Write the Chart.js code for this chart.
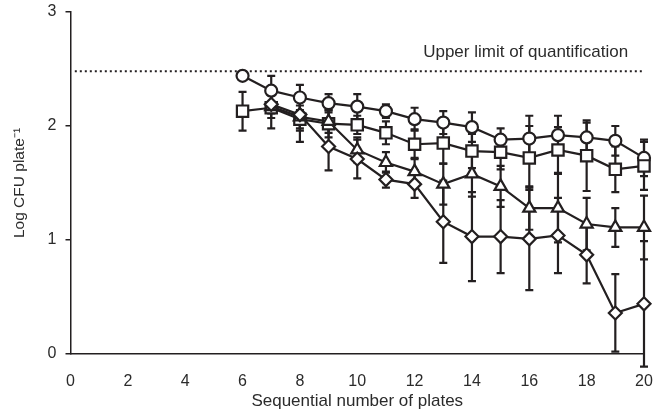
<!DOCTYPE html>
<html>
<head>
<meta charset="utf-8">
<script src="https://cdn.jsdelivr.net/npm/chart.js@4.4.1/dist/chart.umd.min.js"></script>
<style>
    html, body { margin: 0; padding: 0; background: #fff; }
    #wrap { width: 654px; height: 418px; }
</style>
</head>
<body>
<div id="wrap"><canvas id="cfuChart"></canvas></div>
<script>
    // Plate number (x) for every reading
    const plates = [6, 7, 8, 9, 10, 11, 12, 13, 14, 15, 16, 17, 18, 19, 20];

    // Log CFU per plate, one array per marker series
    const circleVals = [2.44, 2.31, 2.25, 2.20, 2.17, 2.13, 2.06, 2.03, 1.99, 1.88, 1.89, 1.92, 1.90, 1.87, 1.72];
    const circleErr = [0, 0.13, 0.11, 0.08, 0.11, 0.06, 0.10, 0.10, 0.13, 0.10, 0.20, 0.17, 0.13, 0.13, 0.16];

    const squareVals = [2.13, 2.16, 2.06, 2.02, 2.01, 1.94, 1.84, 1.85, 1.78, 1.77, 1.72, 1.79, 1.74, 1.62, 1.65];
    const squareErr = [0.17, 0.18, 0.20, 0.12, 0.08, 0.10, 0.13, 0.18, 0.15, 0.15, 0.28, 0.20, 0.31, 0.20, 0.21];

    const triangleVals = [null, 2.17, 2.08, 2.04, 1.79, 1.68, 1.60, 1.49, 1.58, 1.47, 1.28, 1.28, 1.14, 1.11, 1.11];
    const triangleErr = [0, 0.10, 0.10, 0.10, 0.11, 0.09, 0.12, 0.18, 0.20, 0.18, 0.19, 0.30, 0.23, 0.17, 0.28];

    const diamondVals = [null, 2.19, 2.10, 1.82, 1.71, 1.53, 1.49, 1.16, 1.03, 1.03, 1.01, 1.04, 0.87, 0.36, 0.44];
    const diamondErr = [0, 0.08, 0.14, 0.21, 0.17, 0.07, 0.12, 0.36, 0.39, 0.32, 0.45, 0.33, 0.25, 0.34, 0.55];

    // Upper limit of quantification
    const limitX = [0.15, 20];
    const limitY = 2.48;
    const limitLabel = 'Upper limit of quantification';

    const xTicks = [0, 2, 4, 6, 8, 10, 12, 14, 16, 18, 20];
    const yTicks = [0, 1, 2, 3];

    const ink = '#231f20';
    const textColor = '#2b2b2b';
    const fontFamily = '"Liberation Sans", Arial, Helvetica, sans-serif';

    function toPoints(vals) {
        return plates.map((x, i) => ({ x: x, y: vals[i] }));
    }

    function markerSeries(label, vals, errs, style, radius, order) {
        return {
            label: label,
            data: toPoints(vals),
            errors: errs,
            borderColor: ink,
            borderWidth: 2.2,
            pointStyle: style,
            pointRadius: radius,
            pointBorderWidth: 2.2,
            pointBackgroundColor: '#ffffff',
            pointBorderColor: ink,
            tension: 0,
            fill: false,
            clip: false,
            order: order
        };
    }

    // Drop the label overhang padding so the plot box sits where it should
    function noPadding(scale) {
        scale.paddingLeft = 0;
        scale.paddingRight = 0;
        scale.paddingTop = 0;
        scale.paddingBottom = 0;
    }

    // Error bars, drawn under the markers
    const errorBars = {
        id: 'errorBars',
        beforeDatasetsDraw(chart) {
            const ctx = chart.ctx;
            const xs = chart.scales.x;
            const ys = chart.scales.y;
            ctx.save();
            ctx.strokeStyle = ink;
            ctx.lineWidth = 2.2;
            chart.data.datasets.forEach(ds => {
                if (!ds.errors) return;
                ds.data.forEach((p, i) => {
                    const e = ds.errors[i];
                    if (p.y === null || !e) return;
                    const px = xs.getPixelForValue(p.x);
                    const top = ys.getPixelForValue(p.y + e);
                    const bot = ys.getPixelForValue(p.y - e);
                    ctx.beginPath();
                    ctx.moveTo(px, top);
                    ctx.lineTo(px, bot);
                    ctx.moveTo(px - 4, top);
                    ctx.lineTo(px + 4, top);
                    ctx.moveTo(px - 4, bot);
                    ctx.lineTo(px + 4, bot);
                    ctx.stroke();
                });
            });
            ctx.restore();
        },
        afterDraw(chart) {
            const ctx = chart.ctx;
            const xs = chart.scales.x;
            const ys = chart.scales.y;
            ctx.save();
            ctx.fillStyle = textColor;
            ctx.font = '17px ' + fontFamily;
            ctx.textAlign = 'right';
            ctx.textBaseline = 'middle';
            ctx.fillText(limitLabel, xs.getPixelForValue(19.45), ys.getPixelForValue(limitY) - 19);
            ctx.restore();
        }
    };

    const ctx = document.getElementById('cfuChart');

    new Chart(ctx, {
        type: 'line',
        data: {
            datasets: [
                markerSeries('circle', circleVals, circleErr, 'circle', 6, 4),
                markerSeries('square', squareVals, squareErr, 'rect', 8, 3),
                markerSeries('triangle', triangleVals, triangleErr, 'triangle', 7, 2),
                markerSeries('diamond', diamondVals, diamondErr, 'rectRot', 6.5, 1),
                {
                    label: 'limit',
                    data: limitX.map(x => ({ x: x, y: limitY })),
                    borderColor: ink,
                    borderWidth: 2,
                    borderDash: [2, 3],
                    pointRadius: 0,
                    fill: false,
                    order: 5
                }
            ]
        },
        options: {
            responsive: true,
            maintainAspectRatio: false,
            animation: false,
            layout: {
                autoPadding: false,
                padding: { top: 12, right: 10, bottom: 0, left: 0 }
            },
            plugins: {
                legend: { display: false },
                tooltip: { enabled: false }
            },
            scales: {
                x: {
                    type: 'linear',
                    min: 0,
                    max: 20,
                    afterFit: scale => { scale.height = 64; noPadding(scale); },
                    afterBuildTicks: scale => { scale.ticks = xTicks.map(v => ({ value: v })); },
                    grid: { display: false, drawTicks: false },
                    border: { display: true, color: ink, width: 1.5 },
                    ticks: {
                        color: textColor,
                        padding: 18,
                        maxRotation: 0,
                        font: { family: fontFamily, size: 16 }
                    },
                    title: {
                        display: true,
                        text: 'Sequential number of plates',
                        color: textColor,
                        padding: { top: 0, bottom: 6 },
                        font: { family: fontFamily, size: 17 }
                    }
                },
                y: {
                    type: 'linear',
                    min: 0,
                    max: 3,
                    afterFit: scale => { scale.width = 70.5; noPadding(scale); },
                    afterBuildTicks: scale => { scale.ticks = yTicks.map(v => ({ value: v })); },
                    grid: {
                        drawOnChartArea: false,
                        drawTicks: true,
                        tickLength: 5,
                        color: ink,
                        lineWidth: 1.5
                    },
                    border: { display: true, color: ink, width: 1.5 },
                    ticks: {
                        color: textColor,
                        padding: 9,
                        font: { family: fontFamily, size: 16 }
                    },
                    title: {
                        display: true,
                        text: 'Log CFU plate\u207B\u00B9',
                        color: textColor,
                        padding: { top: 10, bottom: 0 },
                        font: { family: fontFamily, size: 15.5 }
                    }
                }
            }
        },
        plugins: [errorBars]
    });
</script>
</body>
</html>
